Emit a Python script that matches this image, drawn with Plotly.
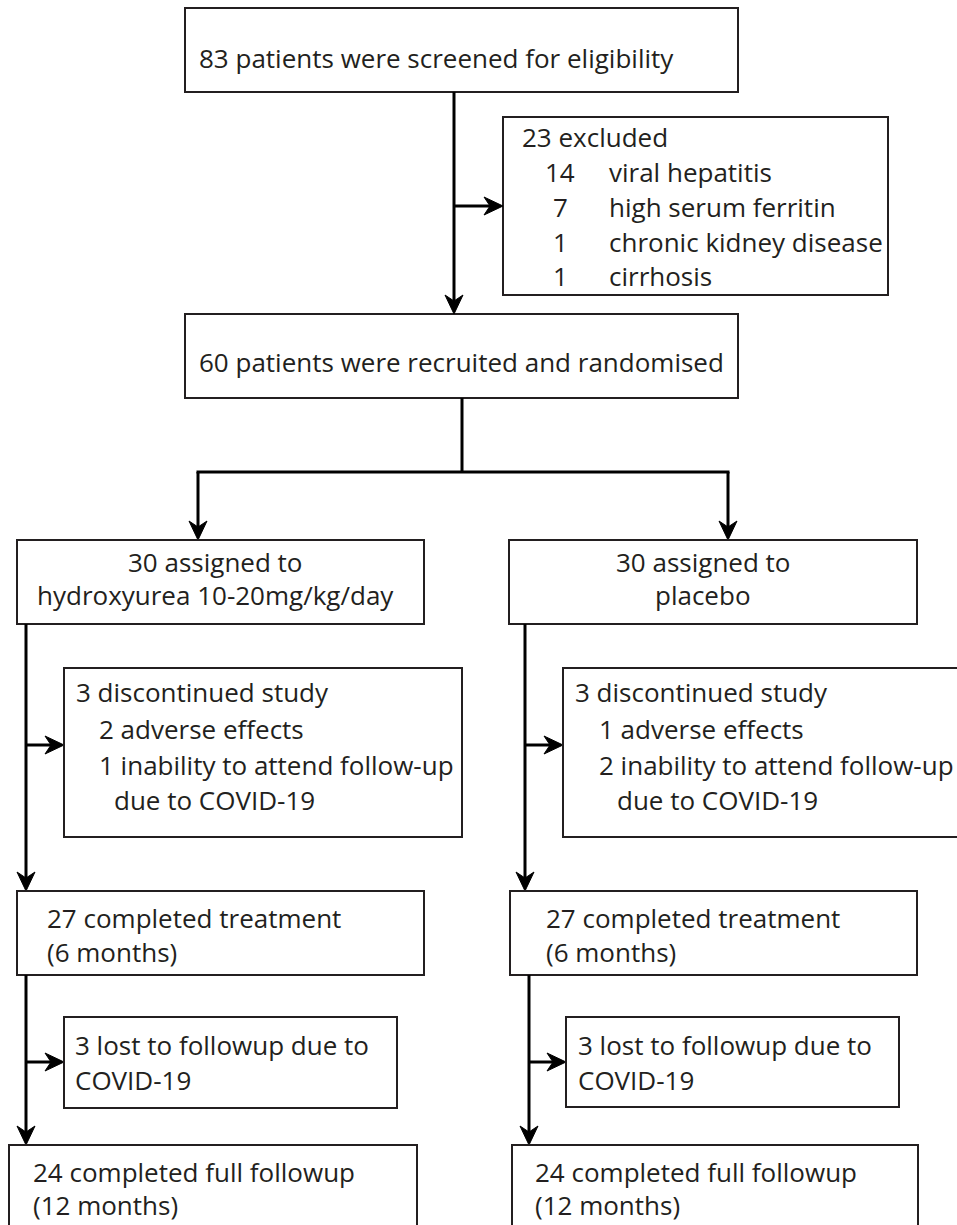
import plotly.graph_objects as go

# ---------------- data (text content and counts) ----------------
screened_n = 83
excluded_n = 23
excluded_counts = ["14", "7", "1", "1"]
excluded_reasons = ["viral hepatitis", "high serum ferritin", "chronic kidney disease", "cirrhosis"]
randomised_n = 60
arm_n = [30, 30]
arm_treatment = ["hydroxyurea 10-20mg/kg/day", "placebo"]
discontinued_n = [3, 3]
adverse_n = [2, 1]
inability_n = [1, 2]
completed_6m_n = [27, 27]
lost_n = [3, 3]
completed_12m_n = [24, 24]

# ---------------- layout geometry (pixels, y downward) ----------------
W, H = 957, 1225
FONT = "Open Sans"
FS = 26
TXT = "#231f20"
BOX_W = 2
LINK_W = 3

top_box = dict(box=(185, 8, 738, 92), tx=197, ty=[58])
excl_box = dict(box=(503, 117, 888, 295), hx=520, hy=137, nx=560, rx=607,
                ys=[172, 207, 242, 276])
rand_box = dict(box=(185, 314, 738, 398), tx=197, ty=[362])

arms = [
    dict(assign=(17, 540, 424, 624), acx=215, ay=[562, 595], drop_x=198,
         trunk1=26, branch1=745, disc=(64, 668, 462, 837), dx=[74, 97, 97, 112],
         dy=[692, 729, 765, 800], comp=(17, 891, 424, 975), cx=45, cy=[918, 952],
         trunk2=26, branch2=1062, lost=(64, 1017, 397, 1108), lx=73, ly=[1045, 1080],
         final=(9, 1145, 417, 1245), fx=31, fy=[1172, 1205]),
    dict(assign=(509, 540, 917, 624), acx=703, ay=[562, 595], drop_x=728,
         trunk1=525, branch1=745, disc=(563, 668, 965, 837), dx=[573, 597, 597, 615],
         dy=[692, 729, 765, 800], comp=(510, 891, 917, 975), cx=544, cy=[918, 952],
         trunk2=529, branch2=1062, lost=(566, 1017, 899, 1107), lx=576, ly=[1045, 1080],
         final=(512, 1145, 918, 1245), fx=533, fy=[1172, 1205]),
]

fig = go.Figure()
fig.add_trace(go.Scatter(x=[0, W], y=[0, H], mode="markers",
                         marker=dict(opacity=0), hoverinfo="skip", showlegend=False))

shapes = []
annotations = []


def rect(b):
    shapes.append(dict(type="rect", xref="x", yref="y", x0=b[0], y0=b[1], x1=b[2], y1=b[3],
                       line=dict(color="#231f20", width=BOX_W), fillcolor="rgba(0,0,0,0)",
                       layer="above"))


def line(x0, y0, x1, y1):
    shapes.append(dict(type="line", xref="x", yref="y", x0=x0, y0=y0, x1=x1, y1=y1,
                       line=dict(color="black", width=LINK_W), layer="above"))


def head(x, y, direction):
    L, hw, notch = 19, 9, 13
    if direction == "down":
        pts = [(x, y), (x - hw, y - L), (x, y - notch), (x + hw, y - L)]
    else:  # right
        pts = [(x, y), (x - L, y - hw), (x - notch, y), (x - L, y + hw)]
    path = "M " + " L ".join(f"{px},{py}" for px, py in pts) + " Z"
    shapes.append(dict(type="path", xref="x", yref="y", path=path,
                       fillcolor="black", line=dict(color="black", width=1), layer="above"))


def text(x, y, s, anchor="left"):
    annotations.append(dict(x=x, y=y, xref="x", yref="y", text=s, showarrow=False,
                            xanchor=anchor, yanchor="middle",
                            font=dict(family=FONT, size=FS, color=TXT)))


# top section
rect(top_box["box"])
text(top_box["tx"], top_box["ty"][0], f"{screened_n} patients were screened for eligibility")
rect(excl_box["box"])
text(excl_box["hx"], excl_box["hy"], f"{excluded_n} excluded")
for n, r, yy in zip(excluded_counts, excluded_reasons, excl_box["ys"]):
    text(excl_box["nx"], yy, n, anchor="center")
    text(excl_box["rx"], yy, r)
rect(rand_box["box"])
text(rand_box["tx"], rand_box["ty"][0], f"{randomised_n} patients were recruited and randomised")

# connectors top
line(454, top_box["box"][3], 454, rand_box["box"][1] - 8)
head(454, rand_box["box"][1], "down")
line(454, 206, excl_box["box"][0] - 8, 206)
head(excl_box["box"][0], 206, "right")
split_y = 472
line(462, rand_box["box"][3], 462, split_y)
line(arms[0]["drop_x"] - 1.5, split_y, arms[1]["drop_x"] + 1.5, split_y)

for i, a in enumerate(arms):
    # drop to arm box
    line(a["drop_x"], split_y, a["drop_x"], a["assign"][1] - 8)
    head(a["drop_x"], a["assign"][1], "down")
    rect(a["assign"])
    text(a["acx"], a["ay"][0], f"{arm_n[i]} assigned to", anchor="center")
    text(a["acx"], a["ay"][1], arm_treatment[i], anchor="center")

    # trunk 1
    line(a["trunk1"], a["assign"][3], a["trunk1"], a["comp"][1] - 8)
    head(a["trunk1"], a["comp"][1], "down")
    line(a["trunk1"], a["branch1"], a["disc"][0] - 8, a["branch1"])
    head(a["disc"][0], a["branch1"], "right")
    rect(a["disc"])
    disc_lines = [f"{discontinued_n[i]} discontinued study",
                  f"{adverse_n[i]} adverse effects",
                  f"{inability_n[i]} inability to attend follow-up",
                  "due to COVID-19"]
    for s, xx, yy in zip(disc_lines, a["dx"], a["dy"]):
        text(xx, yy, s)

    rect(a["comp"])
    text(a["cx"], a["cy"][0], f"{completed_6m_n[i]} completed treatment")
    text(a["cx"], a["cy"][1], "(6 months)")

    # trunk 2
    line(a["trunk2"], a["comp"][3], a["trunk2"], a["final"][1] - 8)
    head(a["trunk2"], a["final"][1], "down")
    line(a["trunk2"], a["branch2"], a["lost"][0] - 8, a["branch2"])
    head(a["lost"][0], a["branch2"], "right")
    rect(a["lost"])
    text(a["lx"], a["ly"][0], f"{lost_n[i]} lost to followup due to")
    text(a["lx"], a["ly"][1], "COVID-19")

    rect(a["final"])
    text(a["fx"], a["fy"][0], f"{completed_12m_n[i]} completed full followup")
    text(a["fx"], a["fy"][1], "(12 months)")

# full-window figure; axis units equal page pixels once the body margin is removed
fig.update_layout(
    width=W, height=H,
    margin=dict(l=0, r=0, t=0, b=0),
    paper_bgcolor="white", plot_bgcolor="white",
    xaxis=dict(range=[0, W], visible=False, fixedrange=True),
    yaxis=dict(range=[H, 0], visible=False, fixedrange=True),
    shapes=shapes, annotations=annotations, showlegend=False,
)

fig.write_html(
    "out.html",
    config={"displayModeBar": False, "staticPlot": True},
    post_script="document.body.style.margin='0';"
                "document.documentElement.style.overflow='hidden';"
                "document.body.style.overflow='hidden';",
)
